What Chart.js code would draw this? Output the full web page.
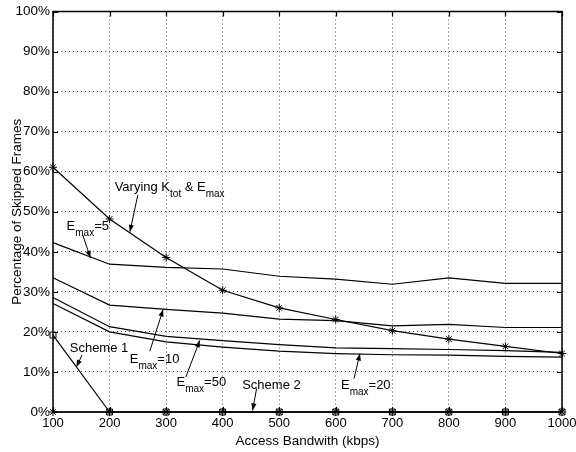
<!DOCTYPE html>
<html>
<head>
<meta charset="utf-8">
<script src="https://cdn.jsdelivr.net/npm/chart.js@4.4.0/dist/chart.umd.min.js"></script>
<style>
  html, body { margin: 0; padding: 0; background: #fff; }
  canvas { display: block; }
</style>
</head>
<body>
<canvas id="chart" width="576" height="452"></canvas>
<script>
// values (percent of skipped frames)
const bandwidth = [100, 200, 300, 400, 500, 600, 700, 800, 900, 1000]
const varyingKE = [61.1, 48.2, 38.6, 30.4, 26.0, 23.1, 20.3, 18.2, 16.4, 14.6]
const emax5 = [42.3, 36.9, 36.1, 35.7, 33.9, 33.2, 31.9, 33.5, 32.1, 32.1]
const emax10 = [33.5, 26.7, 25.6, 24.7, 23.2, 22.8, 21.5, 21.9, 21.1, 21.1]
const emax50 = [28.6, 21.3, 18.9, 17.8, 16.8, 16.0, 15.8, 15.6, 15.3, 14.9]
const emax20 = [27.1, 20.0, 17.5, 16.2, 15.2, 14.6, 14.3, 14.2, 13.9, 13.7]
const scheme1 = [19.2, 0, 0, 0, 0, 0, 0, 0, 0, 0]
const scheme2 = [0, 0, 0, 0, 0, 0, 0, 0, 0, 0]

// text labels and arrows, in data units: [x, y] text start, arrow from -> to
const labels = [
    {parts: [["Varying K"], ["tot", 1], [" & E"], ["max", 1]], at: [209, 55.3], from: [250, 54.2], to: [236, 45.0]},
    {parts: [["E"], ["max", 1], ["=5"]], at: [124, 45.35], from: [152.6, 44.2], to: [166.2, 38.5]},
    {parts: [["E"], ["max", 1], ["=10"]], at: [235.8, 12.35], from: [271.2, 15.2], to: [294.7, 25.6]},
    {parts: [["E"], ["max", 1], ["=50"]], at: [318.4, 6.4], from: [334.9, 8.75], to: [359.6, 17.9]},
    {parts: [["E"], ["max", 1], ["=20"]], at: [609.2, 5.85], from: [632.2, 8.35], to: [642.8, 14.6]},
    {parts: [["Scheme 1"]], at: [129.6, 14.9], from: [151.3, 14.2], to: [141.4, 11.25]},
    {parts: [["Scheme 2"]], at: [434.5, 5.85], from: [460, 5.85], to: [452.9, 0.4]}
]

const FONT = "'Liberation Sans', Arial, Helvetica, sans-serif"

const pts = arr => arr.map((v, i) => ({x: bandwidth[i], y: v}))

const line = (data, extra) => Object.assign({
    data: pts(data),
    borderColor: "#000",
    borderWidth: 1.2,
    pointRadius: 0,
    tension: 0,
    clip: false
}, extra || {})

const matlabFrame = {
    id: "matlabFrame",
    afterDraw(chart){
        const ctx = chart.ctx
        const a = chart.chartArea
        const xs = chart.scales.x
        const ys = chart.scales.y
        ctx.save()
        ctx.strokeStyle = "#000"
        ctx.lineWidth = 1.2
        // inward ticks
        ctx.beginPath()
        xs.ticks.forEach(t => {
            const px = Math.round(xs.getPixelForValue(t.value)) + 0.5
            ctx.moveTo(px, a.bottom); ctx.lineTo(px, a.bottom - 5)
            ctx.moveTo(px, a.top); ctx.lineTo(px, a.top + 5)
        })
        ys.ticks.forEach(t => {
            const py = Math.round(ys.getPixelForValue(t.value)) + 0.5
            ctx.moveTo(a.left, py); ctx.lineTo(a.left + 5, py)
            ctx.moveTo(a.right, py); ctx.lineTo(a.right - 5, py)
        })
        ctx.stroke()
        // box
        ctx.lineWidth = 1.5
        ctx.strokeRect(a.left, a.top, a.right - a.left, a.bottom - a.top)

        // axis titles
        ctx.fillStyle = "#000"
        ctx.font = "13.5px " + FONT
        ctx.textAlign = "center"
        ctx.textBaseline = "alphabetic"
        ctx.fillText("Access Bandwith (kbps)", (a.left + a.right) / 2, 445)
        ctx.save()
        ctx.translate(21, (a.top + a.bottom) / 2)
        ctx.rotate(-Math.PI / 2)
        ctx.fillText("Percentage of Skipped Frames", 0, 0)
        ctx.restore()

        // annotations
        ctx.textAlign = "left"
        labels.forEach(l => {
            let x = xs.getPixelForValue(l.at[0])
            const y = ys.getPixelForValue(l.at[1])
            l.parts.forEach(p => {
                ctx.font = (p[1] ? "10px " : "13px ") + FONT
                ctx.fillText(p[0], x, p[1] ? y + 6 : y)
                x += ctx.measureText(p[0]).width
            })
            const x0 = xs.getPixelForValue(l.from[0]), y0 = ys.getPixelForValue(l.from[1])
            const x1 = xs.getPixelForValue(l.to[0]), y1 = ys.getPixelForValue(l.to[1])
            ctx.lineWidth = 1
            ctx.beginPath()
            ctx.moveTo(x0, y0)
            ctx.lineTo(x1, y1)
            ctx.stroke()
            const ang = Math.atan2(y1 - y0, x1 - x0)
            const len = 7, half = 2.6
            ctx.beginPath()
            ctx.moveTo(x1, y1)
            ctx.lineTo(x1 - len * Math.cos(ang) + half * Math.sin(ang), y1 - len * Math.sin(ang) - half * Math.cos(ang))
            ctx.lineTo(x1 - len * Math.cos(ang) - half * Math.sin(ang), y1 - len * Math.sin(ang) + half * Math.cos(ang))
            ctx.closePath()
            ctx.fill()
        })
        ctx.restore()
    }
}

new Chart(document.getElementById("chart"), {
    type: "line",
    data: {
        datasets: [
            line(varyingKE, {pointStyle: "star", pointRadius: 4, pointBorderColor: "#000", pointBorderWidth: 1}),
            line(emax5),
            line(emax10),
            line(emax50),
            line(emax20),
            line(scheme1, {pointStyle: "rect", pointRadius: 4.2, pointBorderColor: "#000", pointBackgroundColor: "rgba(0,0,0,0)", pointBorderWidth: 1}),
            line(scheme2, {pointStyle: "star", pointRadius: 4, pointBorderColor: "#000", pointBorderWidth: 1})
        ]
    },
    options: {
        responsive: false,
        animation: false,
        devicePixelRatio: 1,
        layout: {padding: {left: 0, right: 0, top: 11.5, bottom: 0}},
        plugins: {legend: {display: false}, tooltip: {enabled: false}},
        scales: {
            x: {
                type: "linear",
                min: 100,
                max: 1000,
                afterFit: s => { s.height = 40; s.paddingRight = 14; s.paddingLeft = 0 },
                ticks: {stepSize: 100, color: "#000", padding: 4, maxRotation: 0, font: {family: FONT, size: 13}, callback: v => String(v)},
                grid: {color: "#555", lineWidth: 1, drawTicks: false},
                border: {display: false, dash: [1, 3]}
            },
            y: {
                min: 0,
                max: 100,
                afterFit: s => { s.width = 53; s.paddingTop = 0; s.paddingBottom = 0 },
                ticks: {stepSize: 10, color: "#000", padding: 3, font: {family: FONT, size: 13.5}, callback: v => v + "%"},
                grid: {color: "#555", lineWidth: 1, drawTicks: false},
                border: {display: false, dash: [1, 3]}
            }
        }
    },
    plugins: [matlabFrame]
})
</script>
</body>
</html>
